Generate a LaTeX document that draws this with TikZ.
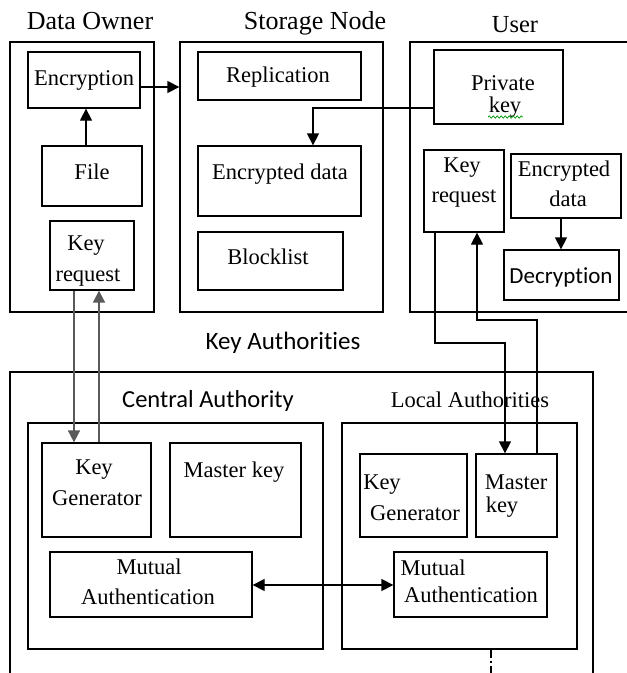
\documentclass[tikz,border=0pt]{standalone}
\usepackage{fontspec}
\setmainfont{Liberation Serif}
\newfontfamily\sansf[Ligatures=NoCommon]{Carlito}
\usetikzlibrary{arrows.meta,fit,decorations.pathmorphing}
\begin{document}
\begin{tikzpicture}[x=1pt,y=-1pt,
  box/.style={draw, line width=1.3pt, inner sep=0pt},
  txt/.style={inner sep=0pt, yshift=-4.5pt, text height=0.66em, text depth=0pt, font=\fontsize{22.5}{27}\selectfont},
  ttl/.style={inner sep=0pt, yshift=-4.5pt, text height=0.66em, text depth=0pt, font=\fontsize{26}{30}\selectfont},
  stxt/.style={inner sep=0pt, yshift=-4.5pt, text height=0.64em, text depth=0pt},
  arr/.style={line width=1.3pt, -{Triangle[length=12pt,width=12pt]}},
  link/.style={line width=1.3pt},
  glink/.style={line width=1.8pt, draw=black!65, -{Triangle[length=12pt,width=12pt]}}]
\useasboundingbox (0,0) rectangle (627,673);
% helper coordinates
\coordinate (x74) at (74,0); \coordinate (x86) at (86,0); \coordinate (x99) at (99,0);
\coordinate (x313) at (313,0); \coordinate (x435) at (435,0); \coordinate (x477) at (477,0);
\coordinate (x491) at (491,0); \coordinate (x505) at (505,0); \coordinate (x537) at (537,0);
\coordinate (x561) at (561,0);
\coordinate (y87) at (0,87); \coordinate (y108) at (0,108); \coordinate (y585) at (0,585);
\coordinate (j1) at (470,343); \coordinate (j2) at (500,320);
\coordinate (ddend) at (491,674);

% titles
\node[ttl] (tdo) at (90,22) {Data Owner};
\node[ttl] (tsn) at (315,22) {Storage Node};
\node[ttl, font=\fontsize{24.5}{28}\selectfont] (tus) at (515,25) {User};

% Data Owner
\node[box, fit={(10,42) (154,312)}] (do) {};
\node[box, fit={(28,52) (140,108)}] (enc) {};
\node[txt] (encT) at (84,78) {Encryption};
\node[box, fit={(42,146) (142,206)}] (file) {};
\node[txt] (fileT) at (92,172) {File};
\node[box, fit={(50,221) (134,290)}] (dokr) {};
\node[txt] (dokrT1) at (86,243) {Key};
\node[txt] (dokrT2) at (88,274) {request};

% Storage Node
\node[box, fit={(180,42) (383,312)}] (stor) {};
\node[box, fit={(198,52) (361,100)}] (rep) {};
\node[txt] (repT) at (278,75) {Replication};
\node[box, fit={(198,146) (361,216)}] (encd) {};
\node[txt] (encdT) at (280,172) {Encrypted data};
\node[box, fit={(198,232) (343,290)}] (blk) {};
\node[txt] (blkT) at (268,257) {Blocklist};

% User
\node[box, fit={(410,42) (629,312)}] (user) {};
\node[box, fit={(434,50) (563,124)}] (pk) {};
\node[txt] (pkT1) at (503,83) {Private};
\node[txt] (pkT2) at (505,105) {key};
\draw[green!60!black, line width=0.7pt, decorate, decoration={snake, amplitude=1.2pt, segment length=4pt}] (488,117) -- (523,117);
\node[box, fit={(424,150) (504,232)}] (ukr) {};
\node[txt] (ukrT1) at (462,165) {Key};
\node[txt] (ukrT2) at (464,195) {request};
\node[box, fit={(511,154) (621,218)}] (uenc) {};
\node[txt] (uencT1) at (564,169) {Encrypted};
\node[txt] (uencT2) at (568,199) {data};
\node[box, fit={(504,250) (619,300)}] (dec) {};
\node[stxt, font=\sansf\fontsize{23}{27}\selectfont] (decT) at (561,276) {Decryption};

% Key Authorities
\node[stxt, font=\sansf\fontsize{25}{29}\selectfont] (tka) at (283,342) {Key Authorities};
\draw[link] (10,674) |- (593,372) -- (593,674);
\node[stxt, font=\sansf\fontsize{24.5}{29}\selectfont] (tca) at (208,400) {Central Authority};
\node[txt] (tla) at (470,400) {Local Authorities};

% Central Authority
\node[box, fit={(28,423) (323,649)}] (ca) {};
\node[box, fit={(42,443) (151,537)}] (cakg) {};
\node[txt] (cakgT1) at (94,467) {Key};
\node[txt] (cakgT2) at (97,498) {Generator};
\node[box, fit={(170,443) (301,537)}] (camk) {};
\node[txt] (camkT) at (234,470) {Master key};
\node[box, fit={(50,552) (252,617)}] (camu) {};
\node[txt] (camuT1) at (149,567) {Mutual};
\node[txt] (camuT2) at (148,597) {Authentication};

% Local Authorities
\node[box, fit={(342,423) (577,649)}] (la) {};
\node[box, fit={(360,454) (467,537)}] (lakg) {};
\node[txt] (lakgT1) at (382,482) {Key};
\node[txt] (lakgT2) at (415,513) {Generator};
\node[box, fit={(476,454) (557,537)}] (lamk) {};
\node[txt] (lamkT1) at (516,482) {Master};
\node[txt] (lamkT2) at (502,505) {key};
\node[box, fit={(394,552) (547,617)}] (lamu) {};
\node[txt] (lamuT1) at (433,568) {Mutual};
\node[txt] (lamuT2) at (471,595) {Authentication};

% connectors
\draw[arr] (file.north -| x86) -- (enc.south -| x86);
\draw[arr] (enc.east |- y87) -- (stor.west |- y87);
\draw[arr] (pk.west |- y108) -| (encd.north -| x313);
\draw[arr] (uenc.south -| x561) -- (dec.north -| x561);
\draw[arr] (ukr.south -| x435) |- (j1) -| (lamk.north -| x505);
\draw[arr] (lamk.north -| x537) |- (j2) -| (ukr.south -| x477);
\draw[glink] (dokr.south -| x74) -- (cakg.north -| x74);
\draw[glink] (cakg.north -| x99) -- (dokr.south -| x99);
\draw[line width=1.3pt, {Triangle[length=12pt,width=12pt]}-{Triangle[length=12pt,width=12pt]}] (camu.east |- y585) -- (lamu.west |- y585);
\draw[line width=1.3pt, dash pattern=on 8pt off 3pt on 2pt off 3pt] (la.south -| x491) -- (ddend);
\end{tikzpicture}
\end{document}
